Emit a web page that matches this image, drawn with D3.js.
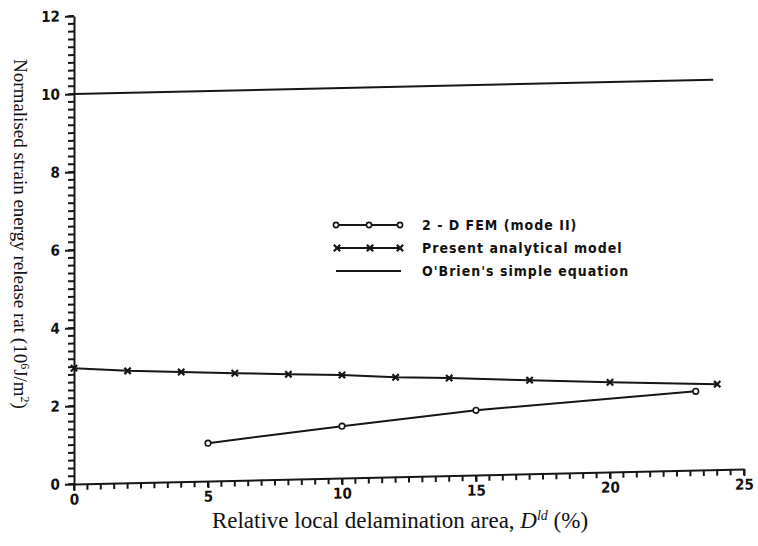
<!DOCTYPE html>
<html>
<head>
<meta charset="utf-8">
<script src="https://cdn.jsdelivr.net/npm/d3@7"></script>
<style>
	body { margin: 0; background: #fff; }
	.tick text { font-family: 'Liberation Sans Narrow', 'DejaVu Sans Condensed', sans-serif; font-weight: bold; font-size: 15px; fill: #111; }
	.legend_text { font-family: 'DejaVu Sans Condensed', sans-serif; font-weight: bold; font-size: 14px; letter-spacing: 1px; fill: #111; }
	.axis_title { font-family: 'Liberation Serif', 'Times New Roman', serif; fill: #111; }
</style>
</head>
<body>
<svg id="chart0"></svg>
<script>
// valori
var fem_x = [5, 10, 15, 23.2];
var fem_y = [0.97, 1.33, 1.66, 2.02];

var ana_x = [0, 2, 4, 6, 8, 10, 12, 14, 17, 20, 24];
var ana_y = [2.97, 2.87, 2.81, 2.75, 2.69, 2.64, 2.55, 2.50, 2.40, 2.30, 2.19];

var obr_x = [0, 23.85];
var obr_y = [10, 10];

var x_ticks = [0, 5, 10, 15, 20, 25];
var y_ticks = [0, 2, 4, 6, 8, 10, 12];

var legend_labels = ['2 - D FEM (mode II)', 'Present analytical model', "O'Brien's simple equation"];

function draw_chart() {

	var width = 758;
	var height = 546;
	var ink = '#161616';

	var x_conv = d3.scaleLinear().domain([0, 25]).range([74, 744]);
	var y_conv = d3.scaleLinear().domain([0, 12]).range([484, 16]);

	var svg = d3.select('#chart0')
		.attr('width', width)
		.attr('height', height);

	// la scansione originale e' leggermente inclinata
	var chart = svg.append('g')
		.attr('transform', 'translate(74,484) skewY(-1.28) translate(-74,-484)');

	// tacche minori
	var x_minor = d3.range(0, 51).map(function(i) { return i * 0.5; });
	var y_minor = d3.range(0, 61).map(function(i) { return i * 0.2; });

	chart.selectAll('line.x_minor')
		.data(x_minor).enter()
		.append('line')
		.attr('class', 'x_minor')
		.attr('x1', function(d) { return x_conv(d); })
		.attr('x2', function(d) { return x_conv(d); })
		.attr('y1', y_conv(0))
		.attr('y2', y_conv(0) + 6)
		.attr('stroke', ink).attr('stroke-width', 2);

	chart.selectAll('line.y_minor')
		.data(y_minor).enter()
		.append('line')
		.attr('class', 'y_minor')
		.attr('x1', x_conv(0) - 6)
		.attr('x2', x_conv(0))
		.attr('y1', function(d) { return y_conv(d); })
		.attr('y2', function(d) { return y_conv(d); })
		.attr('stroke', ink).attr('stroke-width', 2);

	// assi con etichette
	chart.append('g')
		.attr('transform', 'translate(0,' + y_conv(0) + ')')
		.call(d3.axisBottom(x_conv).tickValues(x_ticks).tickSize(7).tickPadding(3).tickSizeOuter(0));

	chart.append('g')
		.attr('transform', 'translate(' + x_conv(0) + ',0)')
		.call(d3.axisLeft(y_conv).tickValues(y_ticks).tickSize(9).tickPadding(5).tickSizeOuter(0));

	chart.selectAll('.tick line').attr('stroke', ink).attr('stroke-width', 2);
	chart.selectAll('.domain').attr('stroke', ink).attr('stroke-width', 2);

	var line = d3.line()
		.x(function(d) { return x_conv(d[0]); })
		.y(function(d) { return y_conv(d[1]); });

	var obr = d3.zip(obr_x, obr_y);
	var ana = d3.zip(ana_x, ana_y);
	var fem = d3.zip(fem_x, fem_y);

	[obr, ana, fem].forEach(function(serie) {
		chart.append('path').datum(serie)
			.attr('d', line).attr('fill', 'none')
			.attr('stroke', ink).attr('stroke-width', 2);
	});

	var cross = d3.symbol().type(d3.symbolX).size(28);

	chart.selectAll('path.ana_mark')
		.data(ana).enter()
		.append('path')
		.attr('class', 'ana_mark')
		.attr('d', cross)
		.attr('transform', function(d) { return 'translate(' + x_conv(d[0]) + ',' + y_conv(d[1]) + ')'; })
		.attr('fill', 'none').attr('stroke', ink).attr('stroke-width', 2.2);

	chart.selectAll('circle.fem_mark')
		.data(fem).enter()
		.append('circle')
		.attr('class', 'fem_mark')
		.attr('cx', function(d) { return x_conv(d[0]); })
		.attr('cy', function(d) { return y_conv(d[1]); })
		.attr('r', 2.8)
		.attr('fill', '#fff').attr('stroke', ink).attr('stroke-width', 1.6);

	// legenda
	var legend_y = [225, 248, 271];
	var legend = svg.append('g');

	legend.selectAll('line.leg')
		.data(legend_y).enter()
		.append('line')
		.attr('x1', 336).attr('x2', 401)
		.attr('y1', function(d) { return d; })
		.attr('y2', function(d) { return d; })
		.attr('stroke', ink).attr('stroke-width', 2);

	legend.selectAll('circle.leg')
		.data([336, 369, 400]).enter()
		.append('circle')
		.attr('cx', function(d) { return d; })
		.attr('cy', legend_y[0])
		.attr('r', 2.6)
		.attr('fill', '#fff').attr('stroke', ink).attr('stroke-width', 1.6);

	legend.selectAll('path.leg')
		.data([337, 370, 400]).enter()
		.append('path')
		.attr('d', cross)
		.attr('transform', function(d) { return 'translate(' + d + ',' + legend_y[1] + ')'; })
		.attr('fill', 'none').attr('stroke', ink).attr('stroke-width', 2.2);

	legend.selectAll('text')
		.data(legend_labels).enter()
		.append('text')
		.attr('class', 'legend_text')
		.attr('x', 422)
		.attr('y', function(d, i) { return legend_y[i] + 5; })
		.text(function(d) { return d; });

	// titoli degli assi
	var x_title = svg.append('text')
		.attr('class', 'axis_title')
		.attr('font-size', '23px')
		.attr('x', 400).attr('y', 528)
		.attr('text-anchor', 'middle');
	x_title.append('tspan').text('Relative local delamination area,  ');
	x_title.append('tspan').attr('font-style', 'italic').text('D');
	x_title.append('tspan').attr('font-style', 'italic').attr('font-size', '14px').attr('dy', '-8').text('ld');
	x_title.append('tspan').attr('dy', '8').text(' (%)');

	var y_title = svg.append('text')
		.attr('class', 'axis_title')
		.attr('font-size', '19px')
		.attr('transform', 'translate(14,234) rotate(90)')
		.attr('text-anchor', 'middle');
	y_title.append('tspan').text('Normalised strain energy release rat (10');
	y_title.append('tspan').attr('font-size', '12px').attr('dy', '-7').text('6');
	y_title.append('tspan').attr('dy', '7').text('J/m');
	y_title.append('tspan').attr('font-size', '12px').attr('dy', '-7').text('2');
	y_title.append('tspan').attr('dy', '7').text(')');
}

draw_chart();
</script>
</body>
</html>
